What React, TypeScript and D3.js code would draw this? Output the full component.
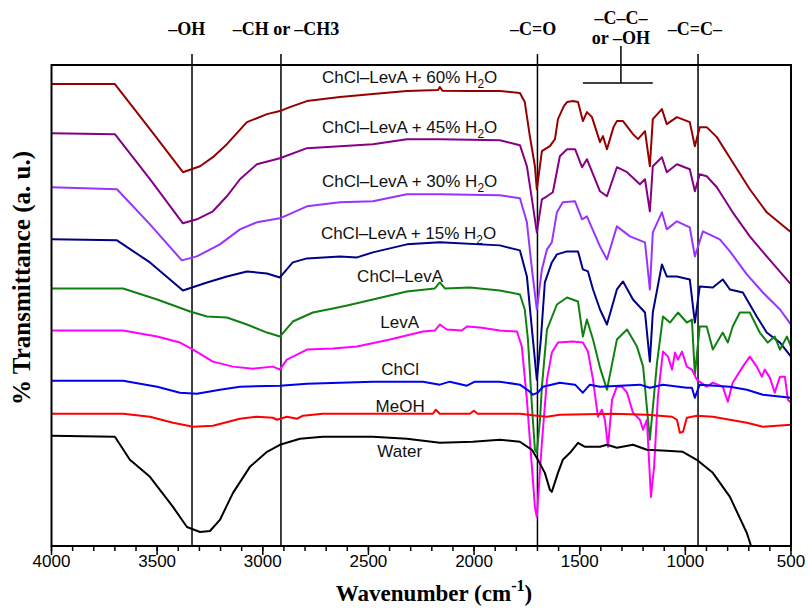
import React from "react";
import * as d3 from "d3";

type Pt = [number, number];

// wavenumber (cm-1), transmittance (a.u., offset per trace)
const h2o60: Pt[] = [
  [4000, 115.25], [3700, 115.25], [3534, 104], [3378, 93.25], [3297, 94.75], [3236, 97], [3170, 100.25],
  [3075, 105.75], [2980, 107.75], [2919, 108.5], [2872, 109.5], [2791, 111], [2635, 112], [2479, 112.75],
  [2318, 113.5], [2170, 113.75], [2162, 114.5], [2150, 113.6], [2020, 113.5], [1878, 113.5], [1783, 113],
  [1760, 110.75], [1736, 102.25], [1712, 94.75], [1703, 89], [1679, 98.5], [1641, 99.75], [1617, 101.5],
  [1603, 106.5], [1575, 109.75], [1560, 110.75], [1532, 111], [1508, 110.75], [1485, 106], [1466, 108.25], [1442, 107],
  [1404, 100.75], [1390, 102.25], [1371, 99], [1340, 104.5], [1324, 106], [1295, 106], [1248, 102.75], [1224, 101.5],
  [1191, 103.5], [1168, 94.75], [1154, 106.5], [1111, 109], [1088, 105.25], [1040, 107], [979, 105.75],
  [955, 99.75], [932, 104.5], [899, 104.5], [851, 102], [776, 95.75], [695, 89], [615, 83.25], [500, 78.25],
];

const h2o45: Pt[] = [
  [4000, 103], [3700, 102.75], [3534, 91.5], [3378, 80.5], [3312, 81.5], [3236, 83.5], [3170, 87.25],
  [3108, 91.5], [3028, 95.25], [2919, 96.75], [2791, 99.25], [2635, 99.75], [2479, 100.25], [2318, 101.5],
  [2162, 101.5], [1878, 101.25], [1783, 100], [1750, 94.75], [1726, 86.5], [1703, 78.25], [1679, 86.5],
  [1655, 87.25], [1627, 88.25], [1594, 97.25], [1560, 99], [1522, 99], [1489, 94.5], [1466, 96.5],
  [1404, 88.5], [1371, 87.25], [1324, 94.5], [1276, 93.25], [1215, 90.25], [1191, 91.5], [1168, 83.5],
  [1154, 94.75], [1111, 97], [1088, 93.25], [1040, 95.25], [979, 94], [955, 88.5], [932, 92.75],
  [899, 92.25], [851, 89.5], [776, 83.25], [695, 77.25], [615, 72.25], [500, 65.25],
];

const h2o30: Pt[] = [
  [4000, 89.5], [3690, 89], [3534, 80.25], [3383, 71.25], [3312, 72.25], [3203, 75.25], [3108, 79],
  [3028, 80.75], [2919, 81.75], [2791, 84.75], [2635, 85.75], [2479, 86], [2318, 87.75], [2162, 87.75],
  [1878, 87.5], [1783, 86.75], [1750, 80.75], [1726, 69], [1703, 59], [1679, 69], [1655, 74], [1632, 75.75],
  [1608, 83.25], [1580, 85.75], [1522, 86], [1489, 81.5], [1466, 82.25], [1404, 74.75], [1371, 71.5],
  [1324, 79.75], [1262, 77.25], [1191, 75.75], [1168, 64], [1154, 78.25], [1111, 83.25], [1088, 79],
  [1040, 81], [979, 79.5], [955, 72.25], [917, 78.5], [837, 76.5], [789, 73.5], [709, 67.75], [633, 63.25],
  [552, 59], [500, 55.25],
];

const h2o15: Pt[] = [
  [4000, 76.5], [3690, 76.25], [3534, 70.75], [3378, 63.75], [3264, 65.75], [3170, 67.25], [3075, 68.5],
  [2980, 68], [2919, 67], [2858, 70.75], [2791, 71.75], [2635, 72.25], [2554, 72], [2479, 73.25],
  [2318, 75.25], [2162, 75.75], [1878, 75], [1783, 73.75], [1750, 67.25], [1726, 54], [1703, 41.5],
  [1684, 51.5], [1665, 65.75], [1632, 70.75], [1608, 72.75], [1560, 73.5], [1508, 73.5], [1485, 69],
  [1461, 68.5], [1437, 64], [1404, 59], [1371, 55.25], [1324, 64], [1295, 66], [1248, 61.5], [1191, 58.25],
  [1168, 46], [1154, 58.25], [1111, 70.25], [1088, 67.25], [1040, 67.25], [979, 66.5], [955, 55.75],
  [932, 64.75], [870, 64.5], [823, 66.5], [789, 64], [728, 63.25], [662, 57.25], [615, 53.25], [552, 50.75],
  [500, 47.25],
];

const chclLevA: Pt[] = [
  [4000, 64.25], [3661, 64.25], [3500, 61.5], [3344, 58.5], [3264, 57.25], [3170, 57], [3075, 55.25],
  [2980, 53.25], [2919, 52.25], [2858, 56], [2763, 58.25], [2668, 59.25], [2601, 60], [2479, 61.5],
  [2318, 63.5], [2186, 64.25], [2162, 65.75], [2138, 64.25], [2020, 64.5], [1878, 63.75], [1783, 62.75],
  [1760, 59], [1745, 51.5], [1726, 34.75], [1712, 24], [1703, 23.25], [1688, 31.5], [1679, 39.75],
  [1655, 54], [1608, 60.25], [1560, 62], [1508, 61], [1485, 52.25], [1466, 56.5], [1437, 51.5],
  [1404, 44.5], [1371, 39], [1324, 51.5], [1276, 54], [1229, 49.75], [1200, 44.75], [1168, 26.5],
  [1134, 45.75], [1106, 57.25], [1073, 55.75], [1035, 58.25], [993, 55.75], [969, 56.5], [955, 42.75],
  [932, 54.75], [899, 54.75], [870, 49], [823, 53.25], [799, 50.75], [776, 54.75], [742, 58.25],
  [695, 58.25], [648, 53.25], [610, 50.75], [577, 52.25], [552, 49], [519, 52.25], [500, 49.75],
];

const levA: Pt[] = [
  [4000, 53.75], [3661, 53.75], [3500, 52.25], [3392, 50.75], [3330, 49], [3236, 46], [3141, 44.75],
  [3046, 44.25], [2952, 44.75], [2919, 44], [2886, 46.5], [2791, 49], [2668, 49.25], [2554, 49.75],
  [2398, 51.5], [2242, 53.5], [2186, 53.75], [2162, 55.25], [2129, 54], [2058, 53.75], [2034, 54.75],
  [1972, 54.5], [1878, 53.75], [1797, 53.5], [1774, 49.75], [1750, 36.5], [1736, 26.5], [1712, 9.75],
  [1703, 7.25], [1679, 25.75], [1655, 41.5], [1632, 48.25], [1603, 50.75], [1532, 51], [1485, 50.75],
  [1461, 48.5], [1437, 41.5], [1414, 32.25], [1395, 34], [1381, 31.5], [1366, 24.75], [1347, 36.5],
  [1324, 39.75], [1300, 39.75], [1276, 38.25], [1248, 33.25], [1215, 31.5], [1200, 29], [1182, 31.5],
  [1163, 12.25], [1148, 19.75], [1130, 37.25], [1106, 48.5], [1082, 47.25], [1063, 44], [1049, 48.25],
  [1035, 46.5], [1016, 48.5], [993, 44.75], [969, 44], [946, 41.5], [899, 39.75], [870, 40.75],
  [823, 39.75], [799, 36], [776, 40.75], [728, 44.75], [695, 47.25], [662, 44.75], [638, 42.25],
  [624, 44], [600, 42], [577, 38.25], [552, 42.25], [529, 42.25], [515, 36.5], [500, 35.75],
];

const chcl: Pt[] = [
  [4000, 41.25], [3661, 41.25], [3500, 39.75], [3392, 38.25], [3312, 38], [3203, 39], [3108, 39.75],
  [2919, 40], [2791, 40.5], [2479, 41], [2242, 41], [2162, 40.25], [2115, 41], [2034, 40], [1996, 41],
  [1878, 41], [1783, 40.25], [1736, 38.5], [1722, 37.75], [1698, 38.25], [1674, 39.75], [1594, 40.75],
  [1522, 40.25], [1485, 38.25], [1452, 40.25], [1404, 39.75], [1215, 40.25], [1168, 39.5], [1106, 40.25],
  [993, 39.5], [969, 39.5], [955, 37], [932, 40.25], [789, 39.75], [709, 39], [633, 37.75], [500, 37],
];

const meoh: Pt[] = [
  [4000, 33], [3661, 33], [3534, 32.25], [3425, 30.75], [3330, 29.75], [3236, 30], [3108, 31.75],
  [3028, 32.25], [2952, 32], [2933, 31.5], [2886, 32.25], [2838, 31.75], [2810, 32.5], [2716, 33],
  [2195, 33], [2181, 34], [2162, 33], [2020, 33], [2001, 33.75], [1983, 33], [1783, 33], [1703, 32.5],
  [1655, 32.25], [1594, 32.75], [1343, 33], [1182, 32.75], [1063, 32.25], [1040, 31.5], [1026, 28.25],
  [1011, 28.5], [993, 32], [946, 32.5], [870, 32.25], [709, 30.75], [633, 29.75], [500, 30.25],
];

const water: Pt[] = [
  [4000, 27.5], [3700, 27.25], [3629, 21.5], [3534, 17.25], [3425, 9.75], [3359, 4.75], [3297, 3.5],
  [3250, 3.75], [3203, 6.5], [3141, 13.25], [3061, 19.75], [2980, 23.5], [2919, 25.25], [2824, 26.75],
  [2716, 27.25], [2479, 27.25], [2318, 26.75], [2162, 25.75], [2006, 26], [1878, 26.5], [1783, 26],
  [1726, 24], [1698, 21.5], [1665, 18.25], [1641, 14], [1632, 13.5], [1603, 18.25], [1580, 21.5],
  [1546, 23.25], [1508, 25.75], [1475, 24.75], [1404, 24.75], [1371, 25.25], [1324, 24.5], [1248, 25.25],
  [1182, 24], [1088, 23.75], [1012, 23.5], [946, 21.5], [870, 18.25], [789, 12.25], [709, 3.25], [686, -0.5],
];

const seriesData = [h2o60, h2o45, h2o30, h2o15, chclLevA, levA, chcl, meoh, water];
const seriesColors = ["#960000", "#860086", "#9933FF", "#000088", "#108010", "#FF00FF", "#0000F0", "#FF0000", "#000000"];
const seriesNames = ["ChCl–LevA + 60% H", "ChCl–LevA + 45% H", "ChCl–LevA + 30% H", "ChCl–LevA + 15% H", "ChCl–LevA", "LevA", "ChCl", "MeOH", "Water"];
const hasWater = [true, true, true, true, false, false, false, false, false];
const labelWn = [2305, 2305, 2305, 2310, 2350, 2352, 2350, 2350, 2352];
const labelVal = [115.5, 103, 89.5, 76.5, 65.75, 54.5, 42.75, 33.5, 22.25];

const bandLines = [3335, 2914, 1700, 940];
const bandTitles = ["–OH", "–CH or –CH3", "–C=O", "–C=C–"];
const bandTitleWn = [3360, 2890, 1720, 955];
const bracketFrom = 1485;
const bracketTo = 1154;
const bracketMid = 1305;

const majorTicks = [4000, 3500, 3000, 2500, 2000, 1500, 1000, 500];
const minorTicks = d3.range(4000, 499, -100);

const W = 808, H = 612;
const L = 51.5, R = 791, T = 65, B = 546;

export default function App() {
  const x = d3.scaleLinear().domain([4000, 500]).range([L, R]);
  const y = d3.scaleLinear().domain([0, 120]).range([B, T]);
  const line = d3.line<Pt>().x(d => x(d[0])).y(d => y(d[1]));
  const serif = "'Liberation Serif', 'Times New Roman', serif";
  const sans = "'Liberation Sans', Arial, sans-serif";

  return (
    <svg width={W} height={H} style={{ position: "absolute", left: 0, top: 0, background: "#fff" }}>
      <defs>
        <clipPath id="plot">
          <rect x={L} y={T} width={R - L} height={B - T} />
        </clipPath>
      </defs>

      {/* band marker lines */}
      {bandLines.map(b => (
        <line key={b} x1={x(b)} x2={x(b)} y1={54} y2={B} stroke="#000" strokeWidth={1.5} />
      ))}
      {bandTitles.map((t, i) => (
        <text key={t} x={x(bandTitleWn[i])} y={35} textAnchor="middle" fontFamily={serif}
          fontWeight="bold" fontSize={18}>{t}</text>
      ))}
      <text x={x(bracketMid)} y={24} textAnchor="middle" fontFamily={serif} fontWeight="bold" fontSize={18}>–C–C–</text>
      <text x={x(bracketMid)} y={44} textAnchor="middle" fontFamily={serif} fontWeight="bold" fontSize={18}>or –OH</text>
      <line x1={x(bracketMid)} x2={x(bracketMid)} y1={46} y2={83} stroke="#000" strokeWidth={1.5} />
      <line x1={x(bracketFrom)} x2={x(bracketTo)} y1={83} y2={83} stroke="#000" strokeWidth={1.5} />

      <g clipPath="url(#plot)">
        {seriesData.map((s, i) => (
          <path key={i} d={line(s) || ""} fill="none" stroke={seriesColors[i]} strokeWidth={2}
            strokeLinejoin="round" />
        ))}
      </g>

      {seriesNames.map((n, i) => (
        <text key={n} x={x(labelWn[i])} y={y(labelVal[i])} textAnchor="middle" fontFamily={sans}
          fontSize={17} fill="#111">
          {n}
          {hasWater[i] && <tspan fontSize={12} dy={5}>2</tspan>}
          {hasWater[i] && <tspan dy={-5}>O</tspan>}
        </text>
      ))}

      <rect x={L} y={T} width={R - L} height={B - T} fill="none" stroke="#000" strokeWidth={2} />

      {minorTicks.map(t => (
        <line key={"m" + t} x1={x(t)} x2={x(t)} y1={B} y2={B + 5} stroke="#000" strokeWidth={1.5} />
      ))}
      {majorTicks.map(t => (
        <g key={t}>
          <line x1={x(t)} x2={x(t)} y1={B} y2={B + 9} stroke="#000" strokeWidth={1.5} />
          <text x={x(t)} y={567} textAnchor="middle" fontFamily={sans} fontSize={17}>{t}</text>
        </g>
      ))}

      <text x={434} y={601} textAnchor="middle" fontFamily={serif} fontWeight="bold" fontSize={23}>
        Wavenumber (cm<tspan fontSize={16} dy={-10}>-1</tspan><tspan dy={10}>)</tspan>
      </text>
      <text transform="translate(30,278) rotate(-90)" textAnchor="middle" fontFamily={serif}
        fontWeight="bold" fontSize={25}>% Transmittance (a. u.)</text>
    </svg>
  );
}
